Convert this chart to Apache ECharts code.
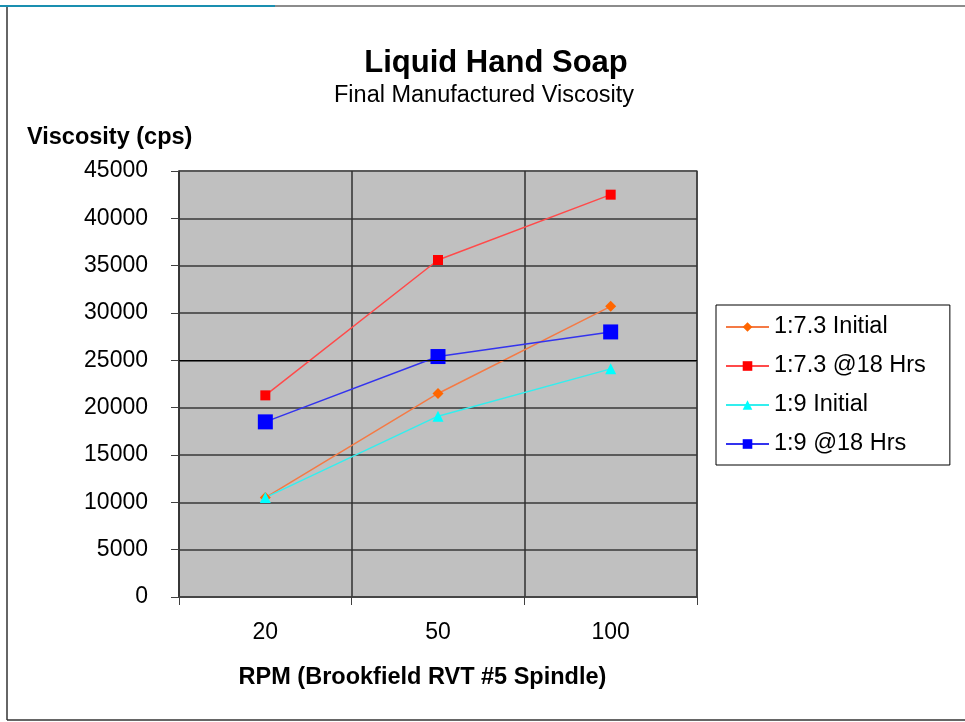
<!DOCTYPE html>
<html lang="en">
<head>
    <meta charset="UTF-8">
    <title>Liquid Hand Soap</title>
    <script src="https://cdn.jsdelivr.net/npm/echarts@6/dist/echarts.min.js"></script>
    <style>
        html, body { margin: 0; padding: 0; background: #fff; }
        #main { width: 965px; height: 722px; }
    </style>
</head>
<body>
    <div id="main"></div>
    <script>
        // data
        var rpm = ['20', '50', '100'];
        var initial73 = [10500, 21500, 30700];
        var hrs73 = [21300, 35600, 42500];
        var initial9 = [10500, 19100, 24100];
        var hrs9 = [18500, 25400, 28000];
        var yTicks = [0, 5000, 10000, 15000, 20000, 25000, 30000, 35000, 40000, 45000];

        var font = 'Liberation Sans, Arial, sans-serif';
        var myChart = echarts.init(document.getElementById('main'));

        function lineSeries(name, data, color, lineColor, symbol, size) {
            return {
                name: name,
                type: 'line',
                data: data,
                symbol: symbol,
                symbolSize: size,
                itemStyle: { color: color },
                lineStyle: { color: lineColor, width: 1.5 },
                emphasis: { disabled: true },
                animation: false
            };
        }

        var s0 = lineSeries('1:7.3 Initial', initial73, '#ff6600', '#f47a45', 'diamond', 11);
        // the odd black grid line at 25000 in the original
        s0.markLine = {
            silent: true,
            symbol: 'none',
            label: { show: false },
            lineStyle: { color: '#000', width: 1.2, type: 'solid' },
            data: [{ yAxis: 25000 }],
            animation: false
        };

        var option = {
            backgroundColor: '#fff',
            title: [{
                text: 'Liquid Hand Soap',
                left: 491, top: 43, textAlign: 'center',
                textStyle: { fontFamily: font, fontSize: 31, fontWeight: 'bold', color: '#000' }
            }, {
                text: 'Final Manufactured Viscosity',
                left: 479, top: 79, textAlign: 'center',
                textStyle: { fontFamily: font, fontSize: 23.5, fontWeight: 'normal', color: '#000' }
            }, {
                text: 'Viscosity (cps)',
                left: 22, top: 121,
                textStyle: { fontFamily: font, fontSize: 23.5, fontWeight: 'bold', color: '#000' }
            }],
            grid: {
                left: 179, top: 171, width: 518, height: 426,
                show: true,
                backgroundColor: '#c0c0c0',
                borderColor: '#808080',
                borderWidth: 1.5
            },
            legend: {
                orient: 'vertical',
                left: 716, top: 305,
                padding: [10, 24, 9, 9],
                backgroundColor: '#fff',
                borderColor: '#000',
                borderWidth: 1,
                itemWidth: 43,
                itemHeight: 12,
                itemGap: 15,
                textStyle: { fontFamily: font, fontSize: 23.5, color: '#000' },
                data: ['1:7.3 Initial', '1:7.3 @18 Hrs', '1:9 Initial', '1:9 @18 Hrs']
            },
            xAxis: {
                type: 'category',
                data: rpm,
                boundaryGap: true,
                name: 'RPM (Brookfield RVT #5 Spindle)',
                nameLocation: 'middle',
                nameGap: 69,
                nameTextStyle: { fontFamily: font, fontSize: 23.5, fontWeight: 'bold', color: '#000', padding: [0, 0, 0, -31] },
                axisLine: { lineStyle: { color: '#404040', width: 1.5 } },
                axisTick: { show: true, length: 8, lineStyle: { color: '#404040' } },
                axisLabel: { fontFamily: font, fontSize: 23, color: '#000', margin: 24 },
                splitLine: { show: true, lineStyle: { color: '#303030', width: 1.5 } }
            },
            yAxis: {
                type: 'value',
                min: 0, max: 45000, interval: 5000,
                axisLine: { show: true, lineStyle: { color: '#303030', width: 1.5 } },
                axisTick: { show: true, length: 8, lineStyle: { color: '#404040' } },
                axisLabel: {
                    fontFamily: font, fontSize: 23, color: '#000', margin: 31,
                    formatter: function (v) { return yTicks.indexOf(v) >= 0 ? String(v) : ''; }
                },
                splitLine: { show: true, lineStyle: { color: '#5a5a5a', width: 2 } }
            },
            series: [
                s0,
                lineSeries('1:7.3 @18 Hrs', hrs73, '#ff0000', '#ff4a4a', 'rect', 10),
                lineSeries('1:9 Initial', initial9, '#00ffff', '#33eeee', 'triangle', 11),
                lineSeries('1:9 @18 Hrs', hrs9, '#0000ff', '#3333ee', 'rect', 15)
            ],
            graphic: [
                { type: 'line', shape: { x1: 7, y1: 7, x2: 7, y2: 720 }, style: { stroke: '#333', lineWidth: 1.5 } },
                { type: 'line', shape: { x1: 7, y1: 720, x2: 965, y2: 720 }, style: { stroke: '#333', lineWidth: 1.5 } },
                { type: 'line', shape: { x1: 0, y1: 6, x2: 275, y2: 6 }, style: { stroke: '#1a8fb0', lineWidth: 2 } },
                { type: 'line', shape: { x1: 275, y1: 6, x2: 965, y2: 6 }, style: { stroke: '#666', lineWidth: 1.5 } }
            ]
        };
        myChart.setOption(option);
    </script>
</body>
</html>
